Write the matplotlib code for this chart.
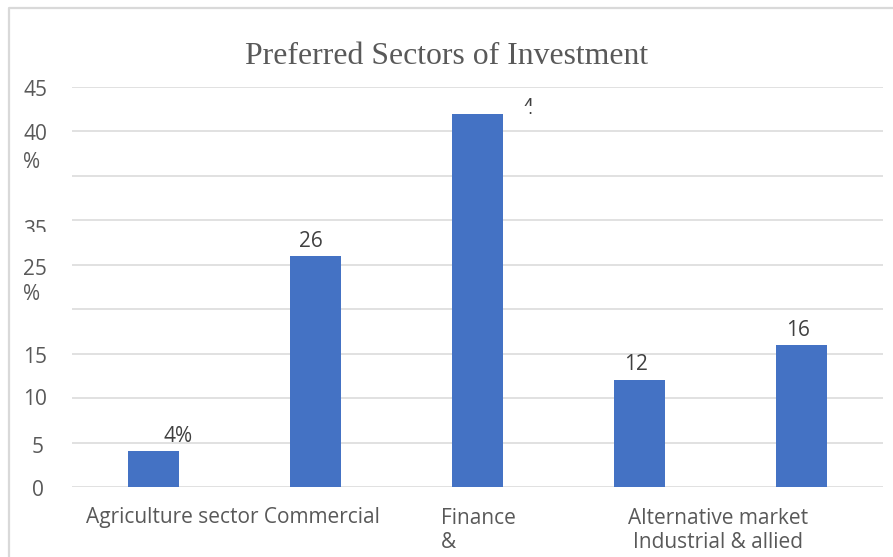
import matplotlib.pyplot as plt
from matplotlib.lines import Line2D
from matplotlib.patches import Rectangle

# sector shares (%)
sectors = ["Agriculture sector", "Commercial", "Finance", "Alternative market", "Industrial & allied"]
shares = [4, 26, 42, 12, 16]
share_labels = ["4%", "26", "4", "12", "16"]

# axis text as it sits on the page
ytick_labels = ["45", "40", "%", "35", "25", "%", "15", "10", "5", "0"]
ytick_values = [44.6, 39.7, 36.5, 28.8, 24.5, 21.6, 14.6, 9.8, 4.4, -0.4]
grid_values = [0, 5, 10, 15, 20, 25, 30, 35, 40, 45]
xlabel_lines = [
    ["Agriculture sector Commercial"],
    ["Finance", "&"],
    ["Alternative market", "Industrial & allied"],
]

W, H = 893, 557
TEXT = "#595959"
GRID = "#d9d9d9"
BAR = "#4472c4"
SANS = ["Open Sans", "DejaVu Sans"]
FS = 15

fig = plt.figure(figsize=(W / 100, H / 100), dpi=100)
ax = fig.add_axes([72 / W, 70 / H, (883 - 72) / W, 400 / H])
ax.set_xlim(-0.5, 4.5)
ax.set_ylim(0, 45)
ax.axis("off")

for g in grid_values:
    ax.axhline(g, color=GRID, linewidth=1.1, zorder=1)

x = range(len(sectors))
ax.bar(x, shares, width=0.315, color=BAR, zorder=2)


def px(xp, yp):
    # pixel position measured from the top-left corner -> figure fraction
    return xp / W, 1 - yp / H


def cut_off(x0, x1, y0, y1):
    # white strip that hides the lower part of a truncated label
    fig.add_artist(Rectangle(px(x0, y1), (x1 - x0) / W, (y1 - y0) / H,
                             transform=fig.transFigure, facecolor="white",
                             edgecolor="none", zorder=10))


# data labels, offset in pixels from the bar top centre
label_dx = [25, -4, 50, -4, -4]
label_dy = [4, 4, -5, 5, 4]
for i, (val, lab) in enumerate(zip(shares, share_labels)):
    xd, yd = ax.transData.transform((i, val))
    fig.text((xd + label_dx[i]) / W, (yd + label_dy[i]) / H, lab,
             ha="center", va="bottom", fontsize=FS, color="#404040", family=SANS)
cut_off(512, 545, 106, 112)

# y-axis labels
ytick_x = [23, 23, 23, 23, 23, 23, 23, 23, 32, 32]
for lab, val, xl in zip(ytick_labels, ytick_values, ytick_x):
    yd = ax.transData.transform((0, val))[1]
    fig.text(xl / W, yd / H, lab, ha="left", va="center",
             fontsize=FS, color=TEXT, family=SANS)
cut_off(15, 62, 232, 245)

# category labels along the bottom
xlabel_pos = [(86, "left"), (441, "left"), (718, "center")]
for lines, (xl, ha) in zip(xlabel_lines, xlabel_pos):
    for j, line in enumerate(lines):
        fig.text(*px(xl, 518 + 24.5 * j), line, ha=ha, va="center",
                 fontsize=FS, color=TEXT, family=SANS)

fig.text(*px(447, 56), "Preferred Sectors of Investment", ha="center", va="center",
         fontsize=22.9, color=TEXT, family=["Liberation Serif", "DejaVu Serif"])

# chart frame (top and left edges)
fig.add_artist(Line2D([8.5 / W, 8.5 / W, 1], [0, 1 - 7.5 / H, 1 - 7.5 / H],
                      transform=fig.transFigure, color=GRID, linewidth=1.6))

fig.savefig("out.png", dpi=100)
